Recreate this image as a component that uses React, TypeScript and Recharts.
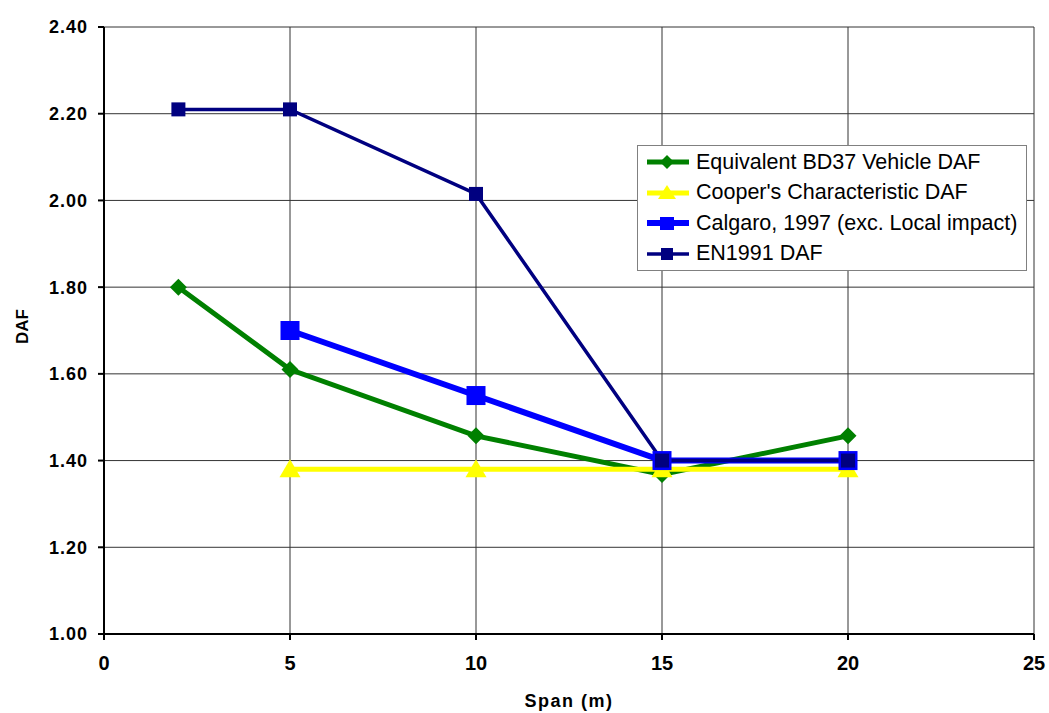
import { LineChart, Line, XAxis, YAxis, CartesianGrid, Legend } from "recharts";

// valeurs
const bd37Spans = [2, 5, 10, 15, 20];
const bd37Daf = [1.8, 1.61, 1.457, 1.368, 1.457];

const cooperSpans = [5, 10, 15, 20];
const cooperDaf = [1.38, 1.38, 1.38, 1.38];

const calgaroSpans = [5, 10, 15, 20];
const calgaroDaf = [1.7, 1.55, 1.4, 1.4];

const enSpans = [2, 5, 10, 15, 20];
const enDaf = [2.21, 2.21, 2.015, 1.4, 1.4];

const xTicks = [0, 5, 10, 15, 20, 25];
const yTicks = [1.0, 1.2, 1.4, 1.6, 1.8, 2.0, 2.2, 2.4];

const seriesNames = [
  "Equivalent BD37 Vehicle DAF",
  "Cooper's Characteristic DAF",
  "Calgaro, 1997 (exc. Local impact)",
  "EN1991 DAF",
];

const toData = (xs: number[], ys: number[]) => xs.map((span, i) => ({ span, daf: ys[i] }));

const font = "'Liberation Sans', Arial, sans-serif";

const colors = ["#008000", "#FFFF00", "#0000FF", "#000080"];
const widths = [5, 5, 6, 3.5];

function Diamond(props: any) {
  const { cx, cy } = props;
  if (cx == null || cy == null) return null;
  const r = 8.5;
  return <path d={`M${cx},${cy - r}L${cx + r},${cy}L${cx},${cy + r}L${cx - r},${cy}Z`} fill={colors[0]} />;
}

function Triangle(props: any) {
  const { cx, cy } = props;
  if (cx == null || cy == null) return null;
  return <path d={`M${cx},${cy - 10}L${cx + 10.5},${cy + 8}L${cx - 10.5},${cy + 8}Z`} fill={colors[1]} />;
}

function makeSquare(size: number, color: string) {
  return (props: any) => {
    const { cx, cy, index } = props;
    if (cx == null || cy == null) return null;
    return <rect key={index} x={cx - size / 2} y={cy - size / 2} width={size} height={size} fill={color} />;
  };
}

function LegendBox() {
  const icon = (i: number) => {
    const c = colors[i];
    let mark;
    if (i === 0) mark = <path d="M21,2L28,9L21,16L14,9Z" fill={c} />;
    else if (i === 1) mark = <path d="M21,1L30,15L12,15Z" fill={c} />;
    else if (i === 2) mark = <rect x={14} y={3} width={14} height={13} fill={c} />;
    else mark = <rect x={15} y={3} width={12} height={12} fill={c} />;
    return (
      <svg width={44} height={18} style={{ marginRight: 6, flex: "none" }}>
        <line x1={1} x2={43} y1={9} y2={9} stroke={c} strokeWidth={widths[i]} />
        {mark}
      </svg>
    );
  };
  return (
    <div
      style={{
        background: "#fff",
        border: "1px solid #808080",
        padding: "1px 4px 1px 8px",
        fontFamily: font,
        fontSize: 21.5,
        color: "#000",
        width: 376,
        whiteSpace: "nowrap",
      }}
    >
      {seriesNames.map((n, i) => (
        <div key={n} style={{ display: "flex", alignItems: "center", height: 30.5 }}>
          {icon(i)}
          <span>{n}</span>
        </div>
      ))}
    </div>
  );
}

const tickY = { fontFamily: font, fontSize: 18, fontWeight: "bold", fill: "#000", letterSpacing: 1, dx: -8 };
const tickX = { fontFamily: font, fontSize: 20, fontWeight: "bold", fill: "#000", dy: 14 };

export default function App() {
  return (
    <div style={{ position: "absolute", left: 0, top: 0, background: "#fff" }}>
      <LineChart width={1049} height={713} margin={{ top: 27, right: 15, bottom: 24, left: 40 }}>
        <CartesianGrid stroke="#333" strokeWidth={1} horizontal vertical />
        <XAxis
          type="number"
          dataKey="span"
          domain={[0, 25]}
          ticks={xTicks}
          allowDuplicatedCategory={false}
          height={55}
          stroke="#000"
          strokeWidth={2}
          tickSize={6}
          tick={tickX}
          label={{
            value: "Span (m)",
            position: "insideBottom",
            offset: -18,
            style: { fontFamily: font, fontSize: 18, fontWeight: "bold", fill: "#000", letterSpacing: 1.5 },
          }}
        />
        <YAxis
          type="number"
          domain={[1, 2.4]}
          ticks={yTicks}
          width={64}
          stroke="#000"
          strokeWidth={2}
          tickSize={6}
          tickFormatter={(v: number) => v.toFixed(2)}
          tick={tickY}
          label={{
            value: "DAF",
            angle: -90,
            position: "insideLeft",
            offset: -18,
            dy: -4,
            style: { fontFamily: font, fontSize: 17, fontWeight: "bold", fill: "#000", textAnchor: "middle" },
          }}
        />
        <Line
          data={toData(bd37Spans, bd37Daf)}
          dataKey="daf"
          name={seriesNames[0]}
          stroke={colors[0]}
          strokeWidth={widths[0]}
          dot={Diamond}
          isAnimationActive={false}
        />
        <Line
          data={toData(cooperSpans, cooperDaf)}
          dataKey="daf"
          name={seriesNames[1]}
          stroke={colors[1]}
          strokeWidth={widths[1]}
          dot={Triangle}
          isAnimationActive={false}
        />
        <Line
          data={toData(calgaroSpans, calgaroDaf)}
          dataKey="daf"
          name={seriesNames[2]}
          stroke={colors[2]}
          strokeWidth={widths[2]}
          dot={makeSquare(19, colors[2])}
          isAnimationActive={false}
        />
        <Line
          data={toData(enSpans, enDaf)}
          dataKey="daf"
          name={seriesNames[3]}
          stroke={colors[3]}
          strokeWidth={widths[3]}
          dot={makeSquare(14, colors[3])}
          isAnimationActive={false}
        />
        <Legend
          layout="vertical"
          align="center"
          verticalAlign="middle"
          content={() => <LegendBox />}
          wrapperStyle={{ left: 637, top: 145, width: "auto" }}
        />
      </LineChart>
    </div>
  );
}
